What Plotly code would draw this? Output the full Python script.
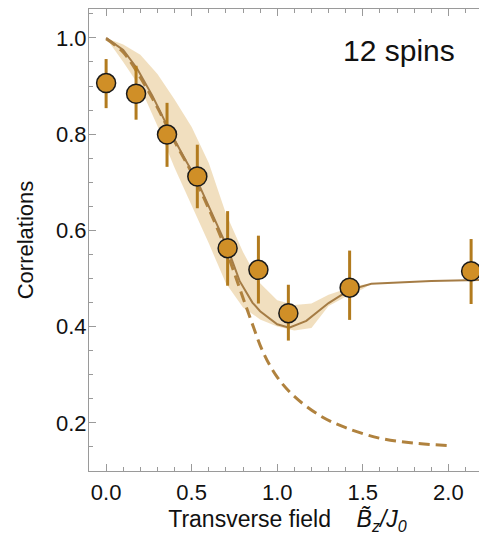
import plotly.graph_objects as go

# ---- data ----
field = [0.0, 0.175, 0.356, 0.533, 0.71, 0.89, 1.065, 1.423, 2.133]
corr = [0.906, 0.884, 0.799, 0.712, 0.563, 0.518, 0.428, 0.481, 0.515]
corr_hi = [0.956, 0.942, 0.865, 0.778, 0.640, 0.589, 0.487, 0.558, 0.582]
corr_lo = [0.854, 0.830, 0.732, 0.646, 0.485, 0.448, 0.371, 0.414, 0.447]

theory_x = [0.0, 0.1, 0.18, 0.27, 0.36, 0.45, 0.53, 0.6, 0.68, 0.71, 0.78, 0.855,
            0.9, 1.0, 1.07, 1.17, 1.3, 1.42, 1.55, 1.7, 1.9, 2.22]
theory_y = [1.0, 0.975, 0.937, 0.88, 0.815, 0.755, 0.705, 0.65, 0.585, 0.563, 0.495, 0.45,
            0.432, 0.405, 0.398, 0.412, 0.449, 0.476, 0.489, 0.492, 0.495, 0.497]

ideal_x = [0.0, 0.1, 0.2, 0.3, 0.4, 0.5, 0.6, 0.7, 0.78, 0.85, 0.92, 1.0, 1.1,
           1.25, 1.4, 1.6, 1.8, 2.0]
ideal_y = [0.998, 0.97, 0.918, 0.855, 0.785, 0.72, 0.645, 0.56, 0.48, 0.41, 0.345, 0.295, 0.255,
           0.215, 0.19, 0.168, 0.158, 0.153]

band_x = [0.0, 0.1, 0.2, 0.3, 0.4, 0.5, 0.6, 0.7, 0.8, 0.9, 1.0, 1.1, 1.2, 1.3, 1.4, 1.5, 1.55]
band_upper = [1.0, 0.986, 0.965, 0.925, 0.872, 0.815, 0.74, 0.635, 0.555, 0.49, 0.455, 0.445,
              0.448, 0.466, 0.478, 0.487, 0.489]
band_lower = [1.0, 0.95, 0.897, 0.817, 0.73, 0.65, 0.573, 0.49, 0.44, 0.415, 0.40, 0.392,
              0.397, 0.443, 0.462, 0.478, 0.489]

x_ticks = [0.0, 0.5, 1.0, 1.5, 2.0]
y_ticks = [0.2, 0.4, 0.6, 0.8, 1.0]

# ---- colours ----
band_col = "rgba(236,212,170,0.75)"
line_col = "#A57C45"
dash_col = "#B0823E"
err_col = "#B27B1E"
marker_col = "#D08F27"
axis_col = "#9A9A9A"
FONT = "Arial, Liberation Sans, sans-serif"

fig = go.Figure()

fig.add_trace(go.Scatter(
    x=band_x + band_x[::-1], y=band_upper + band_lower[::-1],
    fill="toself", fillcolor=band_col, line=dict(width=0), mode="lines",
    hoverinfo="skip", showlegend=False))

fig.add_trace(go.Scatter(
    x=ideal_x, y=ideal_y, mode="lines", line_shape="spline",
    line=dict(color=dash_col, width=3, dash="11px,6px"), showlegend=False))

fig.add_trace(go.Scatter(
    x=theory_x, y=theory_y, mode="lines",
    line=dict(color=line_col, width=2), showlegend=False))

fig.add_trace(go.Scatter(
    x=field, y=corr, mode="markers",
    marker=dict(size=19, color=marker_col, line=dict(color="#1a1a1a", width=1.5)),
    error_y=dict(type="data", symmetric=False,
                 array=[h - v for h, v in zip(corr_hi, corr)],
                 arrayminus=[v - l for v, l in zip(corr, corr_lo)],
                 color=err_col, thickness=3, width=0),
    showlegend=False))

axis_common = dict(
    showline=True, linecolor=axis_col, linewidth=1, mirror="allticks",
    ticks="inside", ticklen=7, tickcolor=axis_col, tickwidth=1,
    showgrid=False, zeroline=False, automargin=False,
    tickfont=dict(family=FONT, size=22, color="#111"),
)

fig.update_xaxes(
    **axis_common, range=[-0.1, 2.22], tickvals=x_ticks, tickformat=".1f",
    minor=dict(ticks="inside", ticklen=4, dtick=0.1, tick0=0, tickcolor=axis_col),
    ticklabelstandoff=2,
    title=dict(text="Transverse field&nbsp;&nbsp;&nbsp; <i>B\u0303<sub>z</sub>/J<sub>0</sub></i>",
               font=dict(family=FONT, size=23, color="#111"), standoff=6))
fig.update_yaxes(
    **axis_common, range=[0.1, 1.06], tickvals=y_ticks, tickformat=".1f",
    minor=dict(ticks="inside", ticklen=4, dtick=0.05, tick0=0, tickcolor=axis_col),
    ticklabelstandoff=-3,
    title=dict(text="Correlations", font=dict(family=FONT, size=22, color="#111"),
               standoff=16))

fig.add_annotation(x=1.71, y=0.974, xref="x", yref="y", text="12 spins",
                   showarrow=False, xanchor="center", yanchor="middle",
                   font=dict(family=FONT, size=30, color="#111"))

# the page body adds an 8px offset, so the figure is 8px smaller than the window
fig.update_layout(
    width=479, height=540, margin=dict(l=81, r=1, t=1, b=77, autoexpand=False),
    paper_bgcolor="white", plot_bgcolor="white")

fig.write_html("out.html")
